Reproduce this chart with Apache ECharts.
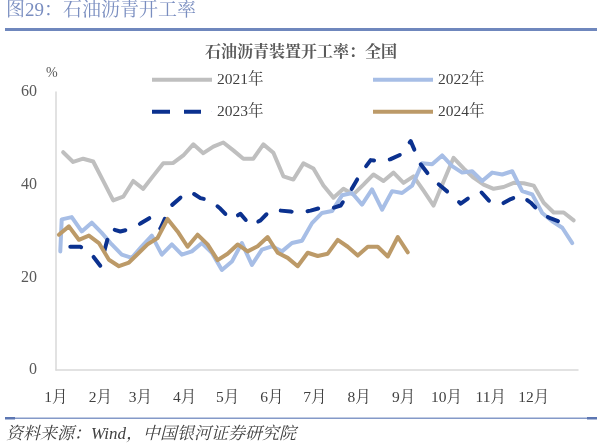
<!DOCTYPE html>
<html><head><meta charset="utf-8">
<script src="https://cdn.jsdelivr.net/npm/echarts@6/dist/echarts.min.js"></script>
<style>html,body{margin:0;padding:0;background:#fff}#c{width:602px;height:446px}</style>
</head><body><div id="c"></div>
<script>
const FONT = "'Liberation Serif', 'Noto Serif CJK SC', 'Noto Sans CJK SC', serif";
const monthLabels = ['1月','2月','3月','4月','5月','6月','7月','8月','9月','10月','11月','12月'];
const monthStartDays = [0,31,59,90,120,151,181,212,243,273,304,334];
const seriesNames = ['2021年','2022年','2023年','2024年'];

// weekly (Wednesday) readings, %
const v2021 = [47.0,44.9,45.6,45.0,40.8,36.6,37.4,40.8,39.1,41.9,44.6,44.7,46.3,48.7,46.8,48.2,49.1,47.4,45.6,45.6,48.7,46.9,41.8,41.1,44.6,43.5,39.8,37.2,39.1,37.9,40.0,42.2,40.8,42.6,40.4,41.8,38.7,35.5,40.7,45.8,43.5,41.5,40.0,39.1,39.5,40.4,40.3,39.8,36.1,34.0,34.0,32.3];
const v2022 = [25.6,32.5,33.0,29.9,31.8,29.6,27.1,24.9,24.2,26.7,29.0,24.9,27.1,24.9,25.6,27.4,25.3,21.6,23.4,27.4,22.7,26.0,26.7,25.6,27.4,27.9,31.7,33.9,34.3,37.7,38.2,35.7,39.0,34.6,38.6,38.2,39.8,44.6,44.4,46.3,44.0,42.6,42.9,40.8,42.6,42.2,42.9,38.6,37.9,33.9,32.1,30.7,27.4];
const v2023 = [26.6,26.6,25.3,22.5,30.5,29.9,30.4,31.6,32.9,30.5,35.3,37.2,38.5,37.1,36.6,34.8,32.5,33.7,31.2,32.3,34.5,34.4,34.2,34.0,34.4,35.0,34.8,35.5,38.7,42.4,45.3,45.0,45.5,46.5,49.4,44.4,41.6,39.7,37.9,35.9,37.4,38.5,36.1,35.7,36.9,37.7,36.1,33.8,32.7,31.9,31.2];
const v2024 = [29.2,31.0,28.1,29.0,27.4,23.8,22.4,23.2,25.3,27.1,28.5,32.6,29.9,26.6,29.2,27.1,23.7,25.1,27.1,25.6,26.7,28.7,25.3,24.2,22.4,25.3,24.6,25.1,28.1,26.6,24.7,26.6,26.6,24.5,28.7,25.4];

// observation dates (first date, then weekly)
function weekly(y, m, d, n) {
  const out = [];
  for (let i = 0; i < n; i++) out.push(new Date(Date.UTC(y, m - 1, d + 7 * i)));
  return out;
}
const d2021 = weekly(2021, 1, 6, v2021.length);
const d2022 = [new Date(Date.UTC(2022, 0, 4))].concat(weekly(2022, 1, 5, v2022.length - 1));
const d2023 = weekly(2023, 1, 11, v2023.length);
const d2024 = weekly(2024, 1, 3, v2024.length);

// position on a common Jan–Dec axis (day of year, non-leap)
function dayOf(dt) {
  return (Date.UTC(2021, dt.getUTCMonth(), dt.getUTCDate()) - Date.UTC(2021, 0, 1)) / 864e5;
}
function pairs(dates, vals) { return vals.map((v, i) => [dayOf(dates[i]), v]); }

const colors = ['#BFBFBF', '#A7BEE6', '#0B318F', '#BC9A68'];
const SOLID_ICON = 'path://M0,0H60V4H0Z';
const DASH_ICON = 'path://M0,0H18V4H0Z M32,0H49V4H32Z M59.8,1.8H60V2.2H59.8Z';
const chart = echarts.init(document.getElementById('c'), null, {renderer: 'canvas'});

function legendAt(name, icon, left, top) {
  return {data: [{name: name, icon: icon}], left: left, top: top, padding: 0, itemWidth: 60, itemHeight: 4, itemGap: 0,
    selectedMode: false, textStyle: {fontFamily: FONT, fontSize: 15.5, color: '#404040'}};
}
const lineBase = {type: 'line', showSymbol: false, symbol: 'none', animation: false, smooth: false};

chart.setOption({
  animation: false,
  title: {text: '石油沥青装置开工率：全国', left: 'center', top: 45, padding: 0,
    textStyle: {fontFamily: FONT, fontSize: 16, fontWeight: 'bold', color: '#595959'}},
  legend: [legendAt(seriesNames[0], SOLID_ICON, 152, 72), legendAt(seriesNames[1], SOLID_ICON, 373, 72),
           legendAt(seriesNames[2], DASH_ICON, 152, 104), legendAt(seriesNames[3], SOLID_ICON, 373, 104)],
  grid: {left: 56, right: 24, top: 92, bottom: 76},
  xAxis: {type: 'value', min: 0, max: 365,
    axisLine: {show: true, lineStyle: {color: '#D9D9D9', width: 1.5}},
    axisTick: {show: false}, splitLine: {show: false},
    axisLabel: {customValues: monthStartDays, margin: 20, fontFamily: FONT, fontSize: 15.5, color: '#404040',
      formatter: v => { const i = monthStartDays.indexOf(v); return i >= 0 ? monthLabels[i] : ''; }}},
  yAxis: {type: 'value', min: 0, max: 60, interval: 20,
    axisLine: {show: true, lineStyle: {color: '#D9D9D9', width: 1.5}},
    axisTick: {show: false}, splitLine: {show: false},
    axisLabel: {margin: 19, fontFamily: FONT, fontSize: 16, color: '#595959'}},
  series: [
    Object.assign({}, lineBase, {name: seriesNames[0], data: pairs(d2021, v2021), itemStyle: {color: colors[0]},
      lineStyle: {color: colors[0], width: 4, cap: 'round', join: 'round'}}),
    Object.assign({}, lineBase, {name: seriesNames[1], data: pairs(d2022, v2022), itemStyle: {color: colors[1]},
      lineStyle: {color: colors[1], width: 4, cap: 'round', join: 'round'}}),
    Object.assign({}, lineBase, {name: seriesNames[2], data: pairs(d2023, v2023), itemStyle: {color: colors[2]},
      lineStyle: {color: colors[2], width: 4, type: [11, 16], cap: 'round', join: 'round'}}),
    Object.assign({}, lineBase, {name: seriesNames[3], data: pairs(d2024, v2024), itemStyle: {color: colors[3]},
      lineStyle: {color: colors[3], width: 4, cap: 'round', join: 'round'}})
  ],
  graphic: [
    {type: 'text', left: 6, top: 2, style: {text: '图29：石油沥青开工率', fontFamily: FONT, fontSize: 19, fill: '#7A8EC0'}},
    {type: 'rect', shape: {x: 5, y: 28, width: 592, height: 3}, style: {fill: '#6F87BD'}},
    {type: 'text', left: 46, top: 66, style: {text: '%', fontFamily: FONT, fontSize: 14, fill: '#595959'}},
    {type: 'rect', shape: {x: 5, y: 417.5, width: 592, height: 1.5}, style: {fill: '#8499C8'}},
    {type: 'rect', shape: {x: 5, y: 417, width: 10, height: 2.5}, style: {fill: '#5C76B2'}},
    {type: 'rect', shape: {x: 587, y: 417, width: 10, height: 2.5}, style: {fill: '#5C76B2'}},
    {type: 'text', left: 6, top: 426, style: {text: '资料来源：Wind，中国银河证券研究院', fontFamily: FONT, fontSize: 17, fontStyle: 'italic', fill: '#404040'}}
  ]
});
</script></body></html>
